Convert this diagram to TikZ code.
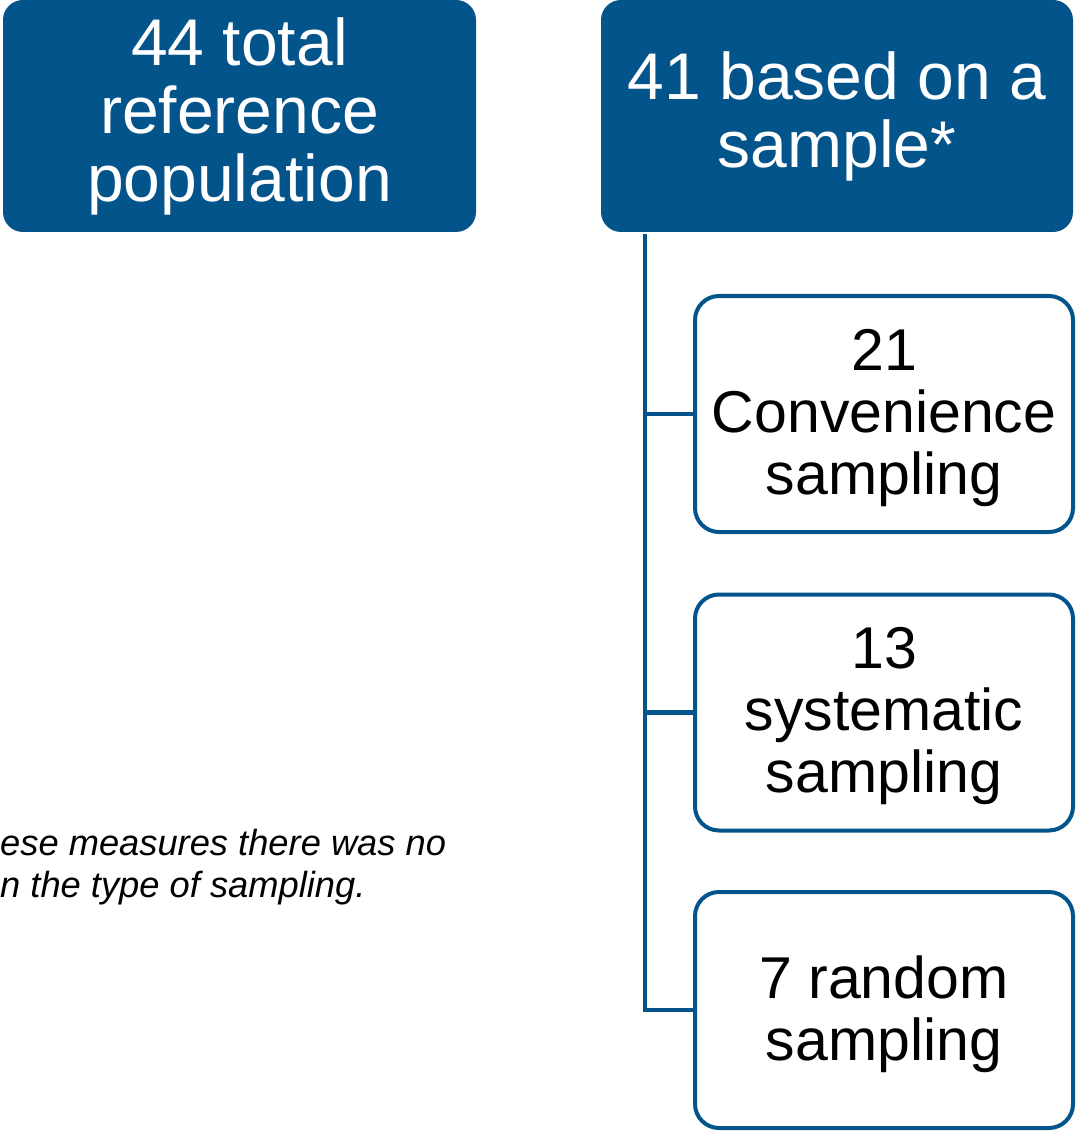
\documentclass[tikz,border=0pt]{standalone}
\usepackage{fontspec}
\setmainfont{Liberation Sans}
\definecolor{dblue}{RGB}{4,84,140}
\begin{document}
\begin{tikzpicture}[x=1pt,y=-1pt,
  topbox/.style={fill=dblue, rounded corners=20pt, text=white, align=center,
    inner sep=0pt, minimum height=232pt, font=\fontsize{66}{68}\selectfont},
  subbox/.style={draw=dblue, line width=4pt, fill=white, rounded corners=24pt,
    inner sep=0pt, minimum width=378pt, minimum height=236pt},
  subtext/.style={align=center, inner sep=0pt, text=black, font=\fontsize{59}{62}\selectfont},
  link/.style={draw=dblue, line width=4.5pt}]
\useasboundingbox (0,0) rectangle (1076,1131);
\node[topbox, minimum width=473pt] (pop) at (239.5,116) {44 total\\reference\\population};
\node[topbox, minimum width=472pt] (samp) at (837,116) {41 based on a\\sample*};
\node[subbox] (conv) at (884,414) {};
\node[subbox] (syst) at (884,712.5) {};
\node[subbox] (rand) at (884,1010) {};
\node[subtext] (convt) at ([yshift=-4pt]conv.center) {21\\Convenience\\sampling};
\node[subtext] (systt) at ([yshift=-4pt]syst.center) {13\\systematic\\sampling};
\node[subtext] (randt) at ([yshift=-4pt]rand.center) {7 random\\sampling};
\coordinate (trunk) at (645,234);
\draw[link] (trunk) |- (conv.west);
\draw[link] (trunk) |- (syst.west);
\draw[link] (trunk) |- (rand.west);
\node[anchor=base west, align=left, inner sep=0pt, font=\fontsize{36.3}{42}\selectfont\itshape] (note) at (0,897)
  {ese measures there was no\\n the type of sampling.};
\end{tikzpicture}
\end{document}
